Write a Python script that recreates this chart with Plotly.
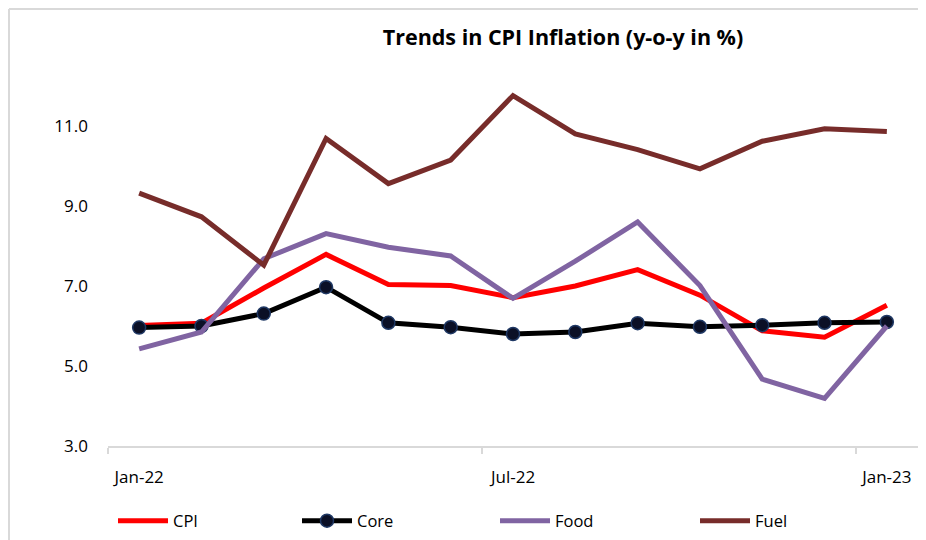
import plotly.graph_objects as go

months = ["Jan-22", "Feb-22", "Mar-22", "Apr-22", "May-22", "Jun-22", "Jul-22",
          "Aug-22", "Sep-22", "Oct-22", "Nov-22", "Dec-22", "Jan-23"]
cpi = [6.01, 6.07, 6.95, 7.79, 7.04, 7.01, 6.71, 7.00, 7.41, 6.77, 5.88, 5.72, 6.52]
core = [5.96, 6.00, 6.31, 6.97, 6.08, 5.97, 5.80, 5.85, 6.07, 5.98, 6.02, 6.08, 6.10]
food = [5.43, 5.85, 7.68, 8.31, 7.97, 7.75, 6.69, 7.62, 8.60, 7.01, 4.67, 4.19, 6.00]
fuel = [9.32, 8.73, 7.52, 10.69, 9.56, 10.15, 11.76, 10.80, 10.41, 9.93, 10.62, 10.93, 10.86]
tick_labels = ["Jan-22", "Jul-22", "Jan-23"]
tick_idx = [0, 6, 12]

x = list(range(len(months)))
W, H = 926, 540
OFF = 8  # page body margin offsets the figure on screen
ML, MT = 108 - OFF, 86 - OFF
MR = W - (918 - OFF)
MB = H - (446 - OFF)
PW, PH = W - ML - MR, H - MT - MB

font_family = "Open Sans, Noto Sans, sans-serif"


def px_x(p):
    """screen x pixel -> paper coordinate"""
    return (p - OFF - ML) / PW


def px_y(p):
    """screen y pixel -> paper coordinate"""
    return (H - MB - (p - OFF)) / PH


fig = go.Figure()
fig.add_trace(go.Scatter(x=x, y=cpi, name="CPI", mode="lines", legend="legend",
                         line=dict(color="#FF0000", width=5)))
fig.add_trace(go.Scatter(x=x, y=core, name="Core", mode="lines+markers", legend="legend2",
                         line=dict(color="#000000", width=5),
                         marker=dict(size=13, color="#0b1026",
                                     line=dict(color="#1f3864", width=1.5))))
fig.add_trace(go.Scatter(x=x, y=food, name="Food", mode="lines", legend="legend3",
                         line=dict(color="#8064A2", width=5)))
fig.add_trace(go.Scatter(x=x, y=fuel, name="Fuel", mode="lines", legend="legend4",
                         line=dict(color="#772C2A", width=5)))

border = "#d9d9d9"
shapes = [
    dict(type="line", xref="paper", yref="paper", x0=px_x(OFF + 1), x1=px_x(W + OFF + 5),
         y0=px_y(OFF + 1), y1=px_y(OFF + 1), line=dict(color=border, width=2)),
    dict(type="line", xref="paper", yref="paper", x0=px_x(OFF + 1), x1=px_x(OFF + 1),
         y0=px_y(OFF + 1), y1=px_y(H + OFF + 5), line=dict(color=border, width=2)),
]

legend_font = dict(size=16.5, family=font_family, color="#000000")


def leg(xpix):
    return dict(orientation="h", x=px_x(xpix), xanchor="left",
                y=px_y(521), yanchor="middle", itemwidth=50,
                font=legend_font, bgcolor="rgba(0,0,0,0)")


fig.update_layout(
    width=W, height=H,
    margin=dict(l=ML, r=MR, t=MT, b=MB, autoexpand=False),
    paper_bgcolor="white", plot_bgcolor="white",
    font=dict(family=font_family, color="#000000"),
    title=dict(text="<b>Trends in CPI Inflation (y-o-y in %)</b>",
               x=(563 - OFF) / W, xanchor="center", xref="container",
               y=1 - (37 - OFF) / H, yanchor="middle", yref="container",
               font=dict(size=21.5, family=font_family, color="#000000")),
    showlegend=True,
    legend=leg(113),
    legend2=leg(297),
    legend3=leg(495),
    legend4=leg(695),
    shapes=shapes,
    xaxis=dict(range=[-0.5, 12.5], showgrid=False, zeroline=False,
               showline=True, linecolor=border, linewidth=2,
               tickmode="array", tickvals=tick_idx, ticktext=tick_labels,
               ticks="", ticklabelstandoff=15,
               tickfont=dict(size=17, family=font_family, color="#000000"),
               minor=dict(tickmode="array", tickvals=[-0.5, 5.5, 11.5],
                          ticks="outside", ticklen=6, tickcolor=border, tickwidth=2)),
    yaxis=dict(range=[3, 12], showgrid=False, zeroline=False, showline=False,
               tickmode="array", tickvals=[3, 5, 7, 9, 11], tickformat=".1f",
               ticks="", ticklabelstandoff=19,
               tickfont=dict(size=17, family=font_family, color="#000000")),
)

fig.write_html("out.html")
